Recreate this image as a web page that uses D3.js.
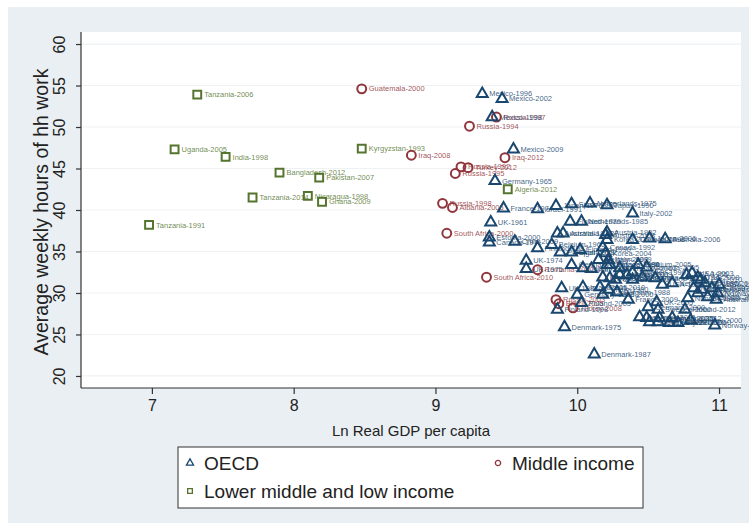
<!DOCTYPE html>
<html>
<head>
<meta charset="utf-8">
<script src="https://cdnjs.cloudflare.com/ajax/libs/d3/7.8.5/d3.min.js"></script>
<style>
  body { margin: 0; background: #fff; }
  svg { display: block; font-family: "Liberation Sans", Arial, sans-serif; }
  .grid line { stroke: #eef2f4; stroke-width: 1.2; }
  .axis path, .axis line { stroke: #333; stroke-width: 1.2; }
  .axis text { fill: #222; font-size: 16px; }
  .mlab { font-size: 7.5px; }
</style>
</head>
<body>
<svg width="749" height="523"></svg>
<script>
// [label, ln real GDP per capita, average weekly hours of hh work]
var lowIncome = [
  ["Tanzania-2006", 7.32, 53.9],
  ["Uganda-2005", 7.16, 47.3],
  ["India-1998", 7.52, 46.4],
  ["Bangladesh-2012", 7.90, 44.5],
  ["Pakistan-2007", 8.18, 43.9],
  ["Tanzania-2014", 7.71, 41.5],
  ["Nicaragua-1998", 8.10, 41.7],
  ["Ghana-2009", 8.20, 41.0],
  ["Tanzania-1991", 6.98, 38.2],
  ["Kyrgyzstan-1993", 8.48, 47.4],
  ["Algeria-2012", 9.51, 42.5]
];

var middleIncome = [
  ["Guatemala-2000", 8.48, 54.6],
  ["Russia-1997", 9.43, 51.2],
  ["Russia-1994", 9.24, 50.1],
  ["Iraq-2008", 8.83, 46.6],
  ["Iraq-2012", 9.49, 46.3],
  ["Russia-1992", 9.18, 45.2],
  ["Turkey-2012", 9.23, 45.1],
  ["Russia-1995", 9.14, 44.4],
  ["Russia-1998", 9.05, 40.8],
  ["Albania-2005", 9.12, 40.3],
  ["South Africa-2000", 9.08, 37.2],
  ["South Africa-2010", 9.36, 31.9],
  ["Romania-2000", 9.72, 32.8],
  ["Russia-2003", 9.85, 29.2],
  ["Brazil-2005", 9.87, 28.7],
  ["Turkey-2008", 9.97, 28.2]
];

var oecd = [
  ["Mexico-1996", 9.33, 54.0],
  ["Mexico-2002", 9.47, 53.4],
  ["Mexico-1998", 9.40, 51.2],
  ["Mexico-2009", 9.55, 47.3],
  ["Germany-1965", 9.42, 43.5],
  ["France-1974", 9.48, 40.2],
  ["UK-1961", 9.39, 38.5],
  ["Estonia-2000", 9.38, 36.7],
  ["Canada-1971", 9.38, 36.1],
  ["Chile-2009", 9.56, 36.2],
  ["UK-1974", 9.64, 33.9],
  ["UK-1975", 9.64, 32.9],
  ["Denmark-1975", 9.91, 25.9],
  ["Denmark-1987", 10.12, 22.6],
  ["Norway-2000", 10.97, 26.1],
  ["Italy-2002", 10.39, 39.6],
  ["Australia-2006", 10.62, 36.5],
  ["Austria-1992", 10.21, 37.3],
  ["Netherlands-1985", 10.03, 38.6],
  ["Australia-1987", 9.90, 37.2],
  ["Israel-1991", 9.72, 40.1],
  ["Japan-1976", 9.85, 40.5],
  ["Spain-1985", 9.96, 40.7],
  ["Netherlands-1975", 10.09, 40.8],
  ["Japan-1990", 10.21, 40.6],
  ["Finland-1979", 9.95, 38.6],
  ["Australia-1974", 9.86, 37.2],
  ["Finland-1987", 9.72, 35.4],
  ["Belgium-1966", 9.82, 35.8],
  ["Portugal-1999", 9.88, 34.9],
  ["Spain-2002", 9.96, 34.9],
  ["Finland-1990", 10.02, 35.2],
  ["Canada-1992", 10.18, 35.5],
  ["Korea-2009", 10.21, 36.4],
  ["Austria-2008", 10.20, 37.0],
  ["Germany-1991", 9.96, 33.4],
  ["Japan-1986", 10.04, 33.0],
  ["Italy-1989", 10.10, 32.9],
  ["Belgium-1999", 10.15, 34.0],
  ["Canada-1986", 10.21, 33.4],
  ["France-1986", 10.18, 31.9],
  ["Sweden-1984", 10.23, 31.8],
  ["UK-1983", 9.89, 30.6],
  ["Israel-2005", 10.04, 30.7],
  ["Spain-2010", 10.16, 30.7],
  ["Finland-2000", 10.18, 29.8],
  ["Germany-1992", 10.00, 29.8],
  ["Finland-1998", 9.86, 28.0],
  ["Poland-2005", 10.03, 28.8],
  ["Canada-1998", 10.39, 36.4],
  ["Japan-2006", 10.51, 36.6],
  ["Korea-2004", 10.20, 34.8],
  ["Italy-2008", 10.22, 34.0],
  ["France-1998", 10.23, 33.4],
  ["Germany-2001", 10.30, 33.0],
  ["Sweden-1990", 10.39, 32.5],
  ["Belgium-2005", 10.43, 33.4],
  ["Canada-2005", 10.49, 33.1],
  ["Austria-2001", 10.30, 32.2],
  ["Spain-2009", 10.35, 32.2],
  ["UK-1995", 10.27, 31.6],
  ["UK-2000", 10.39, 31.6],
  ["Australia-1992", 10.46, 31.9],
  ["Finland-2009", 10.55, 31.8],
  ["USA-1985", 10.60, 31.0],
  ["Netherlands-1995", 10.67, 31.2],
  ["USA-1965", 10.77, 32.2],
  ["USA-2003", 10.81, 32.4],
  ["USA-2008", 10.85, 31.9],
  ["USA-2010", 10.87, 31.6],
  ["Norway-1990", 10.82, 30.6],
  ["USA-2012", 10.85, 30.0],
  ["Norway-1980", 10.78, 29.4],
  ["UK-2005", 10.56, 28.9],
  ["Germany-2000", 10.50, 28.3],
  ["Sweden-2000", 10.57, 28.0],
  ["France-2009", 10.36, 29.2],
  ["Italy-1980", 10.22, 30.4],
  ["Belgium-1988", 10.28, 30.1],
  ["Denmark-2001", 10.44, 27.1],
  ["Netherlands-2005", 10.49, 27.0],
  ["Sweden-1991", 10.51, 26.5],
  ["Germany-2012", 10.57, 26.5],
  ["Denmark-2009", 10.65, 26.4],
  ["Sweden-2010", 10.71, 26.4],
  ["Norway-2010", 10.90, 31.2],
  ["USA-1975", 10.95, 30.6],
  ["Norway-2005", 10.99, 30.0],
  ["Canada-2010", 10.92, 29.5],
  ["Australia-2012", 10.98, 29.2],
  ["Netherlands-2012", 10.88, 30.4],
  ["USA-1998", 11.00, 31.0],
  ["Finland-2012", 10.76, 28.0],
  ["Austria-2012", 10.67, 27.0],
  ["Norway-2000", 10.80, 26.7],
  ["Denmark-2005", 10.58, 27.0]
];

var xTicks = [7, 8, 9, 10, 11];
var yTicks = [20, 25, 30, 35, 40, 45, 50, 55, 60];

var svg = d3.select('svg'),
    width = +svg.attr('width'),
    height = +svg.attr('height');

var plot = { left: 81, right: 741, top: 32, bottom: 388 };

// outer graph region
svg.append('rect')
    .attr('x', 8).attr('y', 7)
    .attr('width', width - 8).attr('height', height - 7)
    .attr('fill', '#e9eff2');

svg.append('rect')
    .attr('x', plot.left).attr('y', plot.top)
    .attr('width', plot.right - plot.left).attr('height', plot.bottom - plot.top)
    .attr('fill', '#fff');

var x = d3.scaleLinear().domain([6.5, 11.155]).range([plot.left, plot.right]);
var y = d3.scaleLinear().domain([18.55, 61.45]).range([plot.bottom, plot.top]);

svg.append('g')
    .attr('class', 'grid')
    .selectAll('line')
    .data(yTicks)
    .enter().append('line')
    .attr('x1', plot.left).attr('x2', plot.right)
    .attr('y1', function(d) { return y(d); })
    .attr('y2', function(d) { return y(d); });

var xAxis = svg.append('g')
    .attr('class', 'axis')
    .attr('transform', 'translate(0,' + plot.bottom + ')')
    .call(d3.axisBottom(x).tickValues(xTicks).tickFormat(d3.format('d'))
        .tickSize(6).tickSizeOuter(0).tickPadding(6));
xAxis.select('.domain').attr('d', 'M' + plot.left + ',0H' + plot.right);
xAxis.selectAll('text').attr('font-size', 17);

var yAxis = svg.append('g')
    .attr('class', 'axis')
    .attr('transform', 'translate(' + plot.left + ',0)')
    .call(d3.axisLeft(y).tickValues(yTicks).tickSize(5).tickSizeOuter(0));
yAxis.select('.domain').attr('d', 'M0,' + plot.top + 'V' + plot.bottom);
yAxis.selectAll('text')
    .attr('transform', 'rotate(-90)')
    .attr('x', 0)
    .attr('y', -16)
    .attr('dy', 0)
    .attr('font-size', 17)
    .style('text-anchor', 'middle');

svg.append('text')
    .attr('transform', 'translate(41,' + ((plot.top + plot.bottom) / 2 + 2) + ') rotate(-90)')
    .attr('text-anchor', 'middle')
    .attr('dy', '0.35em')
    .attr('font-size', 19.5)
    .attr('fill', '#222')
    .text('Average weekly hours of hh work');

svg.append('text')
    .attr('x', (plot.left + plot.right) / 2)
    .attr('y', 436)
    .attr('text-anchor', 'middle')
    .attr('font-size', 15)
    .attr('fill', '#222')
    .text('Ln Real GDP per capita');

var groups = [
  { rows: lowIncome, color: '#55752f', shape: d3.symbolSquare, size: 62 },
  { rows: middleIncome, color: '#90353b', shape: d3.symbolCircle, size: 62 },
  { rows: oecd, color: '#1a476f', shape: d3.symbolTriangle, size: 52 }
];

// labels first so markers sit on top, as in the original
groups.forEach(function(grp) {
    svg.append('g').selectAll('text')
        .data(grp.rows)
        .enter().append('text')
        .attr('class', 'mlab')
        .attr('x', function(d) { return x(d[1]) + 7; })
        .attr('y', function(d) { return y(d[2]); })
        .attr('dy', '0.35em')
        .attr('fill', grp.color)
        .attr('fill-opacity', 0.85)
        .text(function(d) { return d[0]; });
});

groups.forEach(function(grp) {
    svg.append('g').selectAll('path')
        .data(grp.rows)
        .enter().append('path')
        .attr('transform', function(d) { return 'translate(' + x(d[1]) + ',' + y(d[2]) + ')'; })
        .attr('d', d3.symbol().type(grp.shape).size(grp.size))
        .attr('fill', 'none')
        .attr('stroke', grp.color)
        .attr('stroke-width', 2);
});

// legend
var leg = svg.append('g');
leg.append('rect')
    .attr('x', 178).attr('y', 447)
    .attr('width', 465).attr('height', 61)
    .attr('fill', '#fff')
    .attr('stroke', '#333')
    .attr('stroke-width', 1);

var legItems = [
  { label: 'OECD', grp: groups[2], x: 190, y: 463 },
  { label: 'Middle income', grp: groups[1], x: 498, y: 463 },
  { label: 'Lower middle and low income', grp: groups[0], x: 190, y: 491 }
];
legItems.forEach(function(it) {
    leg.append('path')
        .attr('transform', 'translate(' + it.x + ',' + it.y + ')')
        .attr('d', d3.symbol().type(it.grp.shape).size(22))
        .attr('fill', 'none')
        .attr('stroke', it.grp.color)
        .attr('stroke-width', 1.3);
    leg.append('text')
        .attr('x', it.x + 14)
        .attr('y', it.y)
        .attr('dy', '0.36em')
        .attr('font-size', 19)
        .attr('fill', '#222')
        .text(it.label);
});
</script>
</body>
</html>
